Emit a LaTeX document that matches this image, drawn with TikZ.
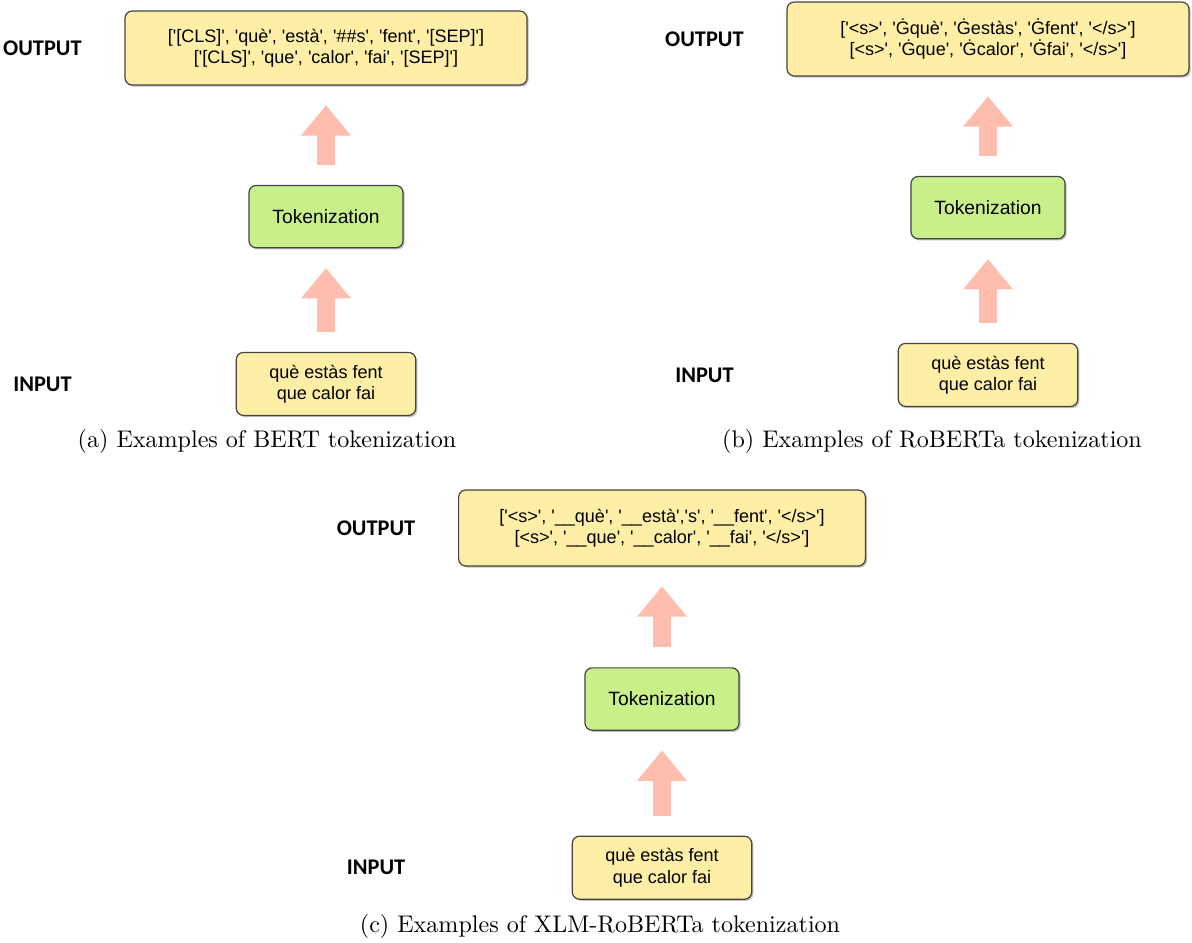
\documentclass[tikz,border=0pt]{standalone}
\usepackage{fontspec}
\usepackage{xcolor}
\usetikzlibrary{positioning, arrows.meta, shadows}

\newfontfamily\boxfont{Liberation Sans}
\newfontfamily\labelfont{Carlito}
\newcommand{\sq}{\textquotesingle}

\definecolor{outyellow}{HTML}{FFEFA6}
\definecolor{tokgreen}{HTML}{C9EF8B}
\definecolor{arrowpink}{HTML}{FFBDAD}
\definecolor{boxedge}{HTML}{444444}

\begin{document}
\begin{tikzpicture}[
        x=0.0146cm, y=-0.0146cm,
        every node/.style={
            align=center
        },
        box/.style={
            rectangle,
            rounded corners=3pt,
            draw=boxedge,
            line width=0.5pt,
            inner sep=2pt,
            font=\boxfont\fontsize{7.7}{8.5}\selectfont,
            drop shadow={shadow xshift=0.7pt, shadow yshift=-0.7pt, opacity=0.25, fill=black}
        },
        outbox/.style={
            box,
            fill=outyellow,
            minimum width=5.87cm,
            minimum height=1.08cm,
            font=\boxfont\fontsize{7.5}{8.6}\selectfont
        },
        tokbox/.style={
            box,
            fill=tokgreen,
            minimum width=2.25cm,
            minimum height=0.91cm,
            font=\boxfont\fontsize{8}{9}\selectfont
        },
        inbox/.style={
            box,
            fill=outyellow,
            minimum width=2.62cm,
            minimum height=0.92cm,
            font=\boxfont\fontsize{7.5}{8.8}\selectfont
        },
        sidelabel/.style={
            font=\labelfont\bfseries\fontsize{9.3}{11}\selectfont
        },
        caption/.style={
            font=\normalsize
        },
        blockarrow/.style={
            draw=arrowpink,
            line width=0.25cm,
            line cap=rect,
            shorten <=0.415cm,
            shorten >=0.29cm,
            -{Triangle[width=0.73cm, length=0.44cm, line width=0pt]}
        }
    ]

    \useasboundingbox (0,0) rectangle (1192,942);

    % (a) BERT

    \node[outbox] (outA) at (326,48)
    {[\sq[CLS]\sq, \sq què\sq, \sq està\sq, \sq\#\#s\sq, \sq fent\sq, \sq[SEP]\sq]\\{}%
    [\sq[CLS]\sq, \sq que\sq, \sq calor\sq, \sq fai\sq, \sq[SEP]\sq]};

    \node[tokbox, below=1.45cm of outA] (tokA) {Tokenization};

    \node[inbox, below=1.51cm of tokA] (inA)
    {què estàs fent\\
    que calor fai};

    \node[sidelabel, left=0.5cm of outA] (outlabelA) {OUTPUT};
    \node[sidelabel] (inlabelA) at (outlabelA |- inA) {INPUT};

    \node[caption] (capA) at (267,441) {(a) Examples of BERT tokenization};

    \draw[blockarrow] (inA) -- (tokA);
    \draw[blockarrow] (tokA) -- (outA);

    % (b) RoBERTa

    \node[outbox] (outB) at (988,39)
    {[\sq<s>\sq, \sq Ġquè\sq, \sq Ġestàs\sq, \sq Ġfent\sq, \sq</s>\sq]\\{}%
    [<s>\sq, \sq Ġque\sq, \sq Ġcalor\sq, \sq Ġfai\sq, \sq</s>\sq]};

    \node[tokbox, below=1.45cm of outB] (tokB) {Tokenization};

    \node[inbox, below=1.51cm of tokB] (inB)
    {què estàs fent\\
    que calor fai};

    \node[sidelabel, left=0.5cm of outB] (outlabelB) {OUTPUT};
    \node[sidelabel] (inlabelB) at (outlabelB |- inB) {INPUT};

    \node[caption] (capB) at (932,441) {(b) Examples of RoBERTa tokenization};

    \draw[blockarrow] (inB) -- (tokB);
    \draw[blockarrow] (tokB) -- (outB);

    % (c) XLM-RoBERTa

    \node[outbox, minimum width=5.94cm, minimum height=1.11cm] (outC) at (662,528)
    {[\sq<s>\sq, \sq\_\_què\sq, \sq\_\_està\sq,\sq s\sq, \sq\_\_fent\sq, \sq</s>\sq]\\{}%
    [<s>\sq, \sq\_\_que\sq, \sq\_\_calor\sq, \sq\_\_fai\sq, \sq</s>\sq]};

    \node[tokbox, below=1.47cm of outC] (tokC) {Tokenization};

    \node[inbox, below=1.53cm of tokC] (inC)
    {què estàs fent\\
    que calor fai};

    \node[sidelabel, left=0.5cm of outC] (outlabelC) {OUTPUT};
    \node[sidelabel] (inlabelC) at (outlabelC |- inC) {INPUT};

    \node[caption] (capC) at (600,926) {(c) Examples of XLM-RoBERTa tokenization};

    \draw[blockarrow] (inC) -- (tokC);
    \draw[blockarrow] (tokC) -- (outC);

\end{tikzpicture}
\end{document}
